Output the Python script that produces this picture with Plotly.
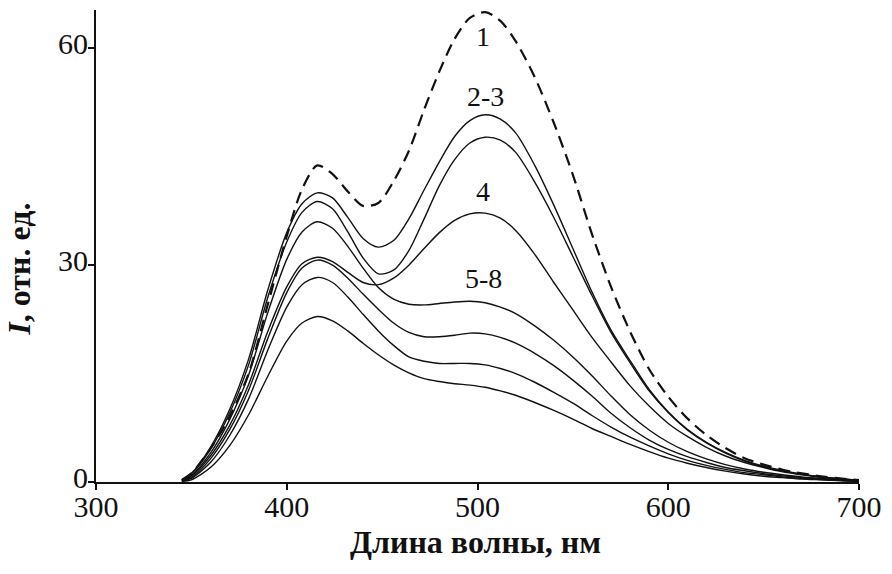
import plotly.graph_objects as go

# Wavelength grid, nm
wavelength = [345, 350, 360, 370, 380, 390, 400, 408, 416, 424, 432, 440, 448, 456,
              464, 472, 480, 488, 496, 504, 512, 520, 530, 540, 550, 560, 570, 580,
              590, 600, 610, 620, 630, 640, 650, 660, 670, 680, 690, 700]

# Emission intensity, arb. units
spec_1 = [0.3, 1.2, 4.6, 9.0, 15.0, 24.5, 34.0, 40.5, 43.8, 42.6, 40.2, 38.2, 38.6, 41.6,
          45.8, 51.5, 56.8, 61.3, 64.2, 65.0, 63.8, 61.0, 56.0, 49.7, 42.5, 34.3, 27.0, 20.8,
          15.6, 11.8, 8.8, 6.5, 4.7, 3.3, 2.4, 1.7, 1.2, 0.8, 0.5, 0.25]
spec_2 = [0.3, 1.2, 4.8, 10.0, 17.0, 26.5, 34.5, 38.5, 40.0, 39.3, 36.6, 33.7, 32.5, 33.4,
          36.4, 40.4, 44.3, 47.8, 50.0, 50.8, 50.2, 48.3, 43.8, 38.3, 32.3, 26.3, 21.0, 16.8,
          12.8, 9.7, 7.3, 5.5, 4.1, 3.0, 2.2, 1.6, 1.1, 0.7, 0.45, 0.25]
spec_3 = [0.3, 1.1, 4.5, 9.5, 16.2, 25.5, 33.2, 37.3, 38.8, 37.8, 34.6, 31.0, 28.8, 29.3,
          32.0, 36.4, 41.0, 44.6, 46.9, 47.7, 47.3, 45.6, 41.5, 36.6, 31.2, 25.8, 20.7, 16.5,
          12.6, 9.6, 7.2, 5.4, 4.0, 2.9, 2.1, 1.5, 1.05, 0.7, 0.42, 0.22]
spec_4 = [0.2, 0.8, 3.6, 7.8, 13.5, 20.8, 27.0, 30.2, 31.1, 30.5, 29.0, 27.6, 27.3, 28.2,
          30.0, 32.3, 34.5, 36.2, 37.1, 37.2, 36.5, 34.8, 31.5, 27.6, 23.8, 20.0, 16.6, 13.3,
          10.5, 8.1, 6.3, 4.8, 3.6, 2.7, 2.0, 1.4, 1.0, 0.65, 0.4, 0.2]
spec_5 = [0.2, 0.9, 4.0, 8.6, 14.8, 23.4, 30.8, 34.6, 36.0, 35.1, 32.6, 29.6, 26.9, 25.3,
          24.6, 24.5, 24.7, 24.9, 25.0, 24.8, 24.2, 23.3, 21.6, 19.6, 17.3, 14.7, 11.9, 9.3,
          7.2, 5.5, 4.2, 3.2, 2.4, 1.8, 1.35, 1.0, 0.7, 0.5, 0.3, 0.15]
spec_6 = [0.15, 0.6, 3.2, 7.2, 12.7, 19.8, 26.2, 29.6, 30.7, 30.0, 28.2, 26.0, 23.9, 22.0,
          20.7, 20.1, 20.1, 20.3, 20.6, 20.5, 20.0, 19.2, 17.8, 16.1, 14.1, 11.9, 9.5, 7.5,
          5.8, 4.5, 3.5, 2.7, 2.0, 1.55, 1.15, 0.85, 0.6, 0.4, 0.25, 0.12]
spec_7 = [0.1, 0.5, 2.7, 6.4, 11.5, 18.2, 24.2, 27.3, 28.3, 27.6, 25.6, 23.2, 20.9, 18.9,
          17.3, 16.7, 16.4, 16.4, 16.4, 16.2, 15.7, 15.0, 13.8, 12.4, 10.9, 9.2, 7.6, 6.2,
          5.0, 3.9, 3.0, 2.3, 1.75, 1.3, 1.0, 0.7, 0.5, 0.35, 0.2, 0.1]
spec_8 = [0.1, 0.3, 2.0, 5.0, 9.3, 14.6, 19.5, 22.0, 22.9, 22.3, 20.9, 19.2, 17.6, 16.2,
          15.1, 14.3, 13.9, 13.6, 13.4, 13.1, 12.6, 12.0, 11.0, 9.9, 8.7, 7.4, 6.3, 5.2,
          4.2, 3.3, 2.6, 2.0, 1.5, 1.1, 0.8, 0.6, 0.4, 0.3, 0.2, 0.1]

# Curve group labels and their anchor points (wavelength, intensity)
group_labels = ["1", "2-3", "4", "5-8"]
label_x = [503, 504, 503, 503]
label_y = [61.6, 53.3, 40.2, 28.2]

x_ticks = [300, 400, 500, 600, 700]
y_ticks = [0, 30, 60]

FONT = "Liberation Serif"
INK = "#111111"

fig = go.Figure()

solid = [spec_8, spec_7, spec_6, spec_5, spec_4, spec_3, spec_2]
for s in solid:
    fig.add_trace(go.Scatter(
        x=wavelength, y=s, mode="lines",
        line=dict(color=INK, width=1.4, shape="spline", smoothing=0.8),
        showlegend=False, hoverinfo="skip"))

fig.add_trace(go.Scatter(
    x=wavelength, y=spec_1, mode="lines",
    line=dict(color=INK, width=2.2, dash="12px,7px", shape="spline", smoothing=0.8),
    showlegend=False, hoverinfo="skip"))

for t, xx, yy in zip(group_labels, label_x, label_y):
    fig.add_annotation(x=xx, y=yy, text=t, showarrow=False,
                       font=dict(family=FONT, size=28, color=INK),
                       xanchor="center", yanchor="middle")

# Axis titles placed as paper-anchored text
fig.add_annotation(xref="paper", yref="paper", x=-0.102, y=0.45,
                   text="<b><i>I</i>, отн. ед.</b>", textangle=-90, showarrow=False,
                   font=dict(family=FONT, size=32, color=INK),
                   xanchor="center", yanchor="middle")
fig.add_annotation(xref="paper", yref="paper", x=0.497, y=-0.127,
                   text="<b>Длина волны, нм</b>", showarrow=False,
                   font=dict(family=FONT, size=32, color=INK),
                   xanchor="center", yanchor="middle")

fig.update_layout(
    width=892, height=574,
    margin=dict(l=96, r=22, t=10, b=92),
    paper_bgcolor="white", plot_bgcolor="white",
    font=dict(family=FONT, size=28, color=INK),
)

fig.update_xaxes(
    range=[300, 700], tickvals=x_ticks, ticktext=[str(v) for v in x_ticks],
    showgrid=False, zeroline=False,
    showline=True, linecolor=INK, linewidth=2,
    ticks="outside", ticklen=6, tickwidth=2, tickcolor=INK,
    tickfont=dict(family=FONT, size=30, color=INK),
    ticklabeloverflow="allow", ticklabelstandoff=-9,
)
fig.update_yaxes(
    range=[0, 65.3], tickvals=y_ticks, ticktext=[str(v) for v in y_ticks],
    showgrid=False, zeroline=False,
    showline=True, linecolor=INK, linewidth=2,
    ticks="outside", ticklen=6, tickwidth=2, tickcolor=INK,
    tickfont=dict(family=FONT, size=30, color=INK),
    ticklabeloverflow="allow", ticklabelstandoff=-6, ticklabelshift=-5,
)

fig.write_html("out.html")
